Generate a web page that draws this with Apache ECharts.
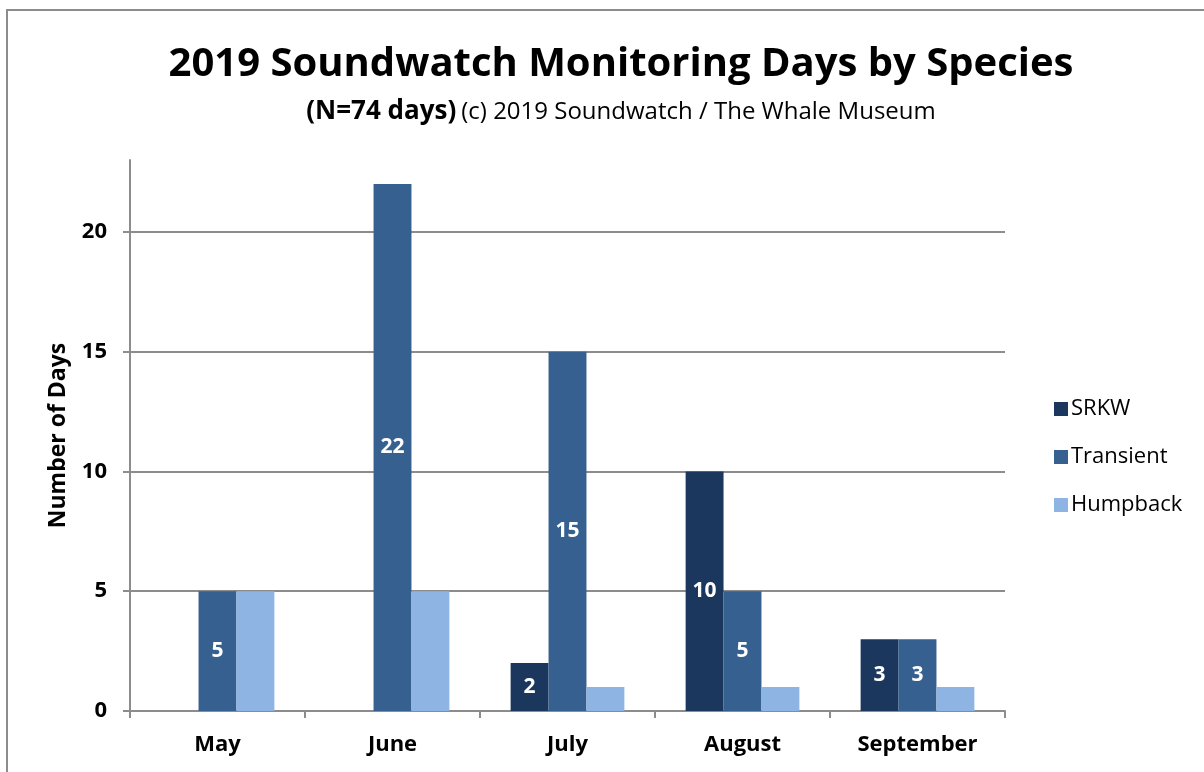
<!DOCTYPE html>
<html>
<head>
<meta charset="utf-8">
<script src="https://cdn.jsdelivr.net/npm/echarts@6/dist/echarts.min.js"></script>
<style>
  html, body { margin: 0; padding: 0; background: #fff; overflow: hidden; }
  .frame {
    position: absolute; left: 6px; top: 9px; width: 1260px; height: 800px;
    border-left: 2px solid #8c8c8c; border-top: 2px solid #8c8c8c;
  }
  #chart { position: absolute; left: 0; top: 0; width: 1242px; height: 772px; }
</style>
</head>
<body>
<div class="frame"></div>
<div id="chart"></div>
<script>
// 数据
const months = ['May', 'June', 'July', 'August', 'September']
const srkw = [0, 0, 2, 10, 3]
const transient = [5, 22, 15, 5, 3]
const humpback = [5, 5, 1, 1, 1]
const yTicks = [0, 5, 10, 15, 20]

const chart = echarts.init(document.getElementById('chart'))
const font = 'Open Sans'

const insideLabel = {
  show: true,
  position: 'inside',
  color: '#fff',
  fontWeight: 'bold',
  fontSize: 21,
  fontFamily: font,
  formatter: p => (p.value ? p.value : '')
}

chart.setOption({
  animation: false,
  title: [
    {
      text: '2019 Soundwatch Monitoring Days by Species',
      left: 'center',
      top: 40,
      textStyle: { fontFamily: font, fontSize: 40, fontWeight: 'bold', color: '#000' }
    },
    {
      text: '{b|(N=74 days)} {n|(c) 2019 Soundwatch / The Whale Museum}',
      left: 'center',
      top: 94,
      textStyle: {
        rich: {
          b: { fontFamily: font, fontSize: 26, fontWeight: 'bold', color: '#000' },
          n: { fontFamily: font, fontSize: 24, fontWeight: 'normal', color: '#000' }
        }
      }
    }
  ],
  legend: {
    orient: 'vertical',
    left: 1049,
    top: 393,
    itemWidth: 14,
    itemHeight: 14,
    itemGap: 26,
    icon: 'rect',
    textStyle: { fontFamily: font, fontSize: 22, color: '#000', padding: [0, 0, 0, -2] },
    data: ['SRKW', 'Transient', 'Humpback']
  },
  grid: { left: 130, right: 237, top: 160, bottom: 61 },
  xAxis: {
    type: 'category',
    data: months,
    axisLine: { lineStyle: { color: '#8c8c8c', width: 2 } },
    axisTick: { show: true, length: 7, lineStyle: { color: '#8c8c8c', width: 2 } },
    axisLabel: { margin: 23, fontFamily: font, fontSize: 22, fontWeight: 'bold', color: '#000' }
  },
  yAxis: {
    type: 'value',
    min: 0,
    max: 23,
    interval: 5,
    name: 'Number of Days',
    nameLocation: 'middle',
    nameGap: 60,
    nameTextStyle: { fontFamily: font, fontSize: 23, fontWeight: 'bold', color: '#000' },
    axisLine: { show: true, lineStyle: { color: '#8c8c8c', width: 2 } },
    axisTick: { show: true, length: 7, customValues: yTicks, lineStyle: { color: '#8c8c8c', width: 2 } },
    axisLabel: { margin: 23, customValues: yTicks, fontFamily: font, fontSize: 22, fontWeight: 'bold', color: '#000' },
    splitLine: { show: true, lineStyle: { color: '#8c8c8c', width: 2 } }
  },
  series: [
    {
      name: 'SRKW', type: 'bar', data: srkw,
      barGap: 0, barCategoryGap: '35%',
      itemStyle: { color: '#1b375e' },
      label: insideLabel
    },
    {
      name: 'Transient', type: 'bar', data: transient,
      itemStyle: { color: '#36608f' },
      label: insideLabel
    },
    {
      name: 'Humpback', type: 'bar', data: humpback,
      itemStyle: { color: '#8eb4e3' }
    }
  ]
})
</script>
</body>
</html>
